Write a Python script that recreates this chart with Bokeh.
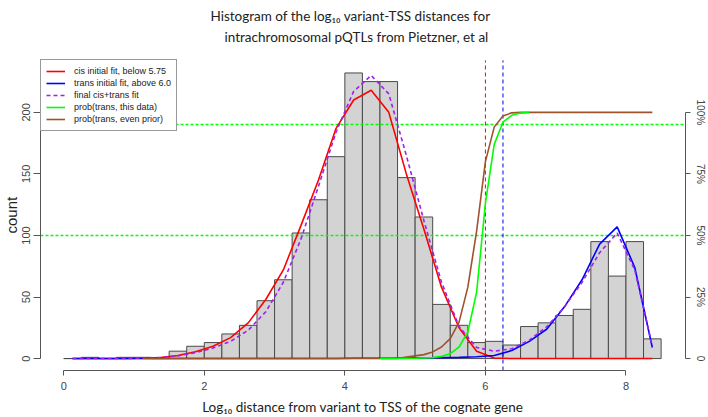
from bokeh.plotting import figure
from bokeh.models import (Range1d, LinearAxis, FixedTicker, Title,
                          Legend, LegendItem)
from bokeh.embed import file_html
from bokeh.resources import INLINE

# ---------------- data ----------------
bin_left = [0.0, 0.25, 0.5, 0.75, 1.0, 1.25, 1.5, 1.75, 2.0, 2.25, 2.5, 2.75,
            3.0, 3.25, 3.5, 3.75, 4.0, 4.25, 4.5, 4.75, 5.0, 5.25, 5.5, 5.75,
            6.0, 6.25, 6.5, 6.75, 7.0, 7.25, 7.5, 7.75, 8.0, 8.25]
bin_right = [0.25, 0.5, 0.75, 1.0, 1.25, 1.5, 1.75, 2.0, 2.25, 2.5, 2.75, 3.0,
             3.25, 3.5, 3.75, 4.0, 4.25, 4.5, 4.75, 5.0, 5.25, 5.5, 5.75, 6.0,
             6.25, 6.5, 6.75, 7.0, 7.25, 7.5, 7.75, 8.0, 8.25, 8.5]
counts = [0, 1, 0, 1, 1, 0, 6, 10, 13, 20, 27, 47,
          64, 102, 129, 164, 232, 225, 225, 147, 115, 44, 27, 13,
          14, 11, 26, 29, 35, 40, 95, 67, 95, 16]

midpoints = [0.125, 0.375, 0.625, 0.875, 1.125, 1.375, 1.625, 1.875, 2.125,
             2.375, 2.625, 2.875, 3.125, 3.375, 3.625, 3.875, 4.125, 4.375,
             4.625, 4.875, 5.125, 5.375, 5.625, 5.875, 6.125, 6.375, 6.625,
             6.875, 7.125, 7.375, 7.625, 7.875, 8.125, 8.375]
cis_fit = [0, 0, 0, 0.1, 0.3, 0.8, 2.5, 5.5, 10, 17, 29, 48, 72, 108, 145, 187,
           210, 218, 200, 150, 105, 58, 25, 6, 0.5, 0, 0, 0, 0, 0, 0, 0, 0, 0]
trans_fit = [0, 0, 0, 0, 0, 0, 0, 0, 0, 0, 0, 0, 0, 0, 0, 0.1, 0.2, 0.3, 0.3,
             0.4, 0.5, 0.8, 1.0, 1.5, 2.5, 6.5, 14, 24, 42, 64, 93, 107, 74, 9]
final_fit = [0, 0, 0, 0.1, 0.3, 0.9, 2.2, 4.8, 8.6, 14, 23, 38, 62, 97, 140,
             184, 217, 230, 215, 165, 112, 62, 26, 9, 6, 8, 15, 26, 42, 62, 86,
             102, 72, 10]

prior_x = [1.125, 4.75, 4.875, 5.0, 5.125, 5.25, 5.375, 5.5, 5.625, 5.75,
           5.875, 6.0, 6.125, 6.25, 6.375, 6.5, 8.375]
prob_prior = [0, 0, 0.006, 0.011, 0.016, 0.027, 0.047, 0.081, 0.148, 0.29,
              0.518, 0.80, 0.94, 0.985, 0.998, 1.0, 1.0]
data_x = [4.5, 5.0, 5.25, 5.375, 5.5, 5.625, 5.75, 5.875, 6.0, 6.125, 6.25,
          6.375, 6.5, 6.625]
prob_data = [0, 0.001, 0.004, 0.009, 0.02, 0.047, 0.108, 0.27, 0.63, 0.87,
             0.96, 0.988, 0.997, 1.0]

cut_lines = [6.0, 6.25]
cut_colors = ["#FF0000", "#0000FF"]
prob_guides = [0.5, 0.95]

x_ticks = [0, 2, 4, 6, 8]
count_ticks = [0, 50, 100, 150, 200]
prob_ticks = [0, 0.25, 0.5, 0.75, 1.0]
prob_tick_labels = ["0", "25%", "50%", "75%", "100%"]
prob_full_scale = 200  # count level that corresponds to probability 1

title_line1 = "Histogram of the log\u2081\u2080 variant-TSS distances for"
title_line2 = "intrachromosomal pQTLs from Pietzner, et al"
x_title = "Log\u2081\u2080 distance from variant to TSS of the cognate gene"
y_title = "count"
legend_labels = ["cis initial fit, below 5.75", "trans initial fit, above 6.0",
                 "final cis+trans fit", "prob(trans, this data)",
                 "prob(trans, even prior)"]

# ---------------- layout ----------------
x_start, x_end = -0.3305, 8.847
y_start, y_end = -9.69, 254.3
region_top = 242.2          # top of the original plotting region (count units)

p = figure(width=708, height=417, output_backend="svg", toolbar_location=None,
           x_range=Range1d(x_start, x_end), y_range=Range1d(y_start, y_end),
           x_axis_location=None, y_axis_location=None,
           min_border_left=40, min_border_right=21, min_border_top=45,
           min_border_bottom=45)
p.extra_y_ranges = {"prob": Range1d(y_start / prob_full_scale,
                                    y_end / prob_full_scale)}
p.outline_line_color = None
p.grid.visible = False
p.background_fill_color = "white"
p.border_fill_color = "white"

TITLE_FONT = "Lato"
TITLE_SIZE = "13.5px"

# first title line is the figure title (outermost); the second line is
# added as an extra Title that sits nearest the frame
p.title.text = title_line1
p.title.align = "left"
p.title.offset = 170
p.title.standoff = 4
p.title.text_font = TITLE_FONT
p.title.text_font_size = TITLE_SIZE
p.title.text_font_style = "normal"
p.title.text_color = "#222222"
p.add_layout(Title(text=title_line2, align="left", offset=184, standoff=2,
                   text_font=TITLE_FONT, text_font_size=TITLE_SIZE,
                   text_font_style="normal", text_color="#222222"), "above")

AX = "#555555"
LAB = "#444444"


def style_axis(ax):
    ax.axis_line_color = AX
    ax.major_tick_line_color = AX
    ax.minor_tick_line_color = None
    ax.major_tick_in = 0
    ax.major_label_text_font = "Liberation Sans"
    ax.major_label_text_font_size = "11px"
    ax.major_label_text_color = LAB


xaxis = LinearAxis(ticker=FixedTicker(ticks=x_ticks), bounds=(0, 8))
style_axis(xaxis)
xaxis.major_tick_out = 5
xaxis.major_label_standoff = 6
xaxis.axis_label = x_title
xaxis.axis_label_standoff = 6
xaxis.axis_label_text_font = TITLE_FONT
xaxis.axis_label_text_font_size = TITLE_SIZE
xaxis.axis_label_text_font_style = "normal"
xaxis.axis_label_text_color = "#222222"
p.add_layout(xaxis, "below")

yaxis = LinearAxis(ticker=FixedTicker(ticks=count_ticks), bounds=(0, 200))
style_axis(yaxis)
yaxis.major_tick_out = 7
yaxis.major_label_standoff = 3
yaxis.major_label_orientation = "vertical"
p.add_layout(yaxis, "left")

p.add_layout(Title(text=y_title, align="left", offset=137, standoff=0,
                   text_font="Liberation Sans", text_font_size="15px",
                   text_font_style="normal", text_color="#222222"), "left")

raxis = LinearAxis(y_range_name="prob", ticker=FixedTicker(ticks=prob_ticks),
                   bounds=(0, 1),
                   major_label_overrides={t: l for t, l in zip(prob_ticks, prob_tick_labels)})
style_axis(raxis)
raxis.major_tick_out = 5
raxis.major_label_standoff = 4
raxis.major_label_text_font_size = "10px"
raxis.major_label_orientation = "vertical"
p.add_layout(raxis, "right")

# histogram
p.quad(left=bin_left, right=bin_right, bottom=0, top=counts,
       fill_color="#D3D3D3", line_color="#4a4a4a", line_width=1)

# guide lines
for g in prob_guides:
    p.hspan(y=[g], y_range_name="prob", line_color="#00FF00",
            line_dash="3 2", line_width=1.3)
p.segment(x0=cut_lines, y0=[y_start, y_start], x1=cut_lines,
          y1=[region_top, region_top], line_color=cut_colors,
          line_dash="4 3", line_width=1)

# fits
r_cis = p.line(midpoints, cis_fit, line_color="#FF0000", line_width=1.6)
r_trans = p.line(midpoints, trans_fit, line_color="#0000FF", line_width=1.6)
r_final = p.line(midpoints, final_fit, line_color="#A020F0", line_width=1.6,
                 line_dash="4 3")
r_prior = p.line(prior_x, prob_prior, y_range_name="prob",
                 line_color="#A0522D", line_width=1.6)
r_data = p.line(data_x, prob_data, y_range_name="prob",
                line_color="#00FF00", line_width=1.6)

legend = Legend(items=[LegendItem(label=legend_labels[0], renderers=[r_cis]),
                       LegendItem(label=legend_labels[1], renderers=[r_trans]),
                       LegendItem(label=legend_labels[2], renderers=[r_final]),
                       LegendItem(label=legend_labels[3], renderers=[r_data]),
                       LegendItem(label=legend_labels[4], renderers=[r_prior])],
                location=(0, 239), margin=0, padding=5, spacing=0,
                glyph_width=19, glyph_height=12, label_height=12,
                label_standoff=9, label_text_font="Liberation Sans",
                label_text_font_size="9px", label_text_color="#222222",
                border_line_color="#333333", border_line_width=1,
                background_fill_color="white", background_fill_alpha=1.0)
p.add_layout(legend)

open("out.html", "w").write(file_html(p, INLINE))
